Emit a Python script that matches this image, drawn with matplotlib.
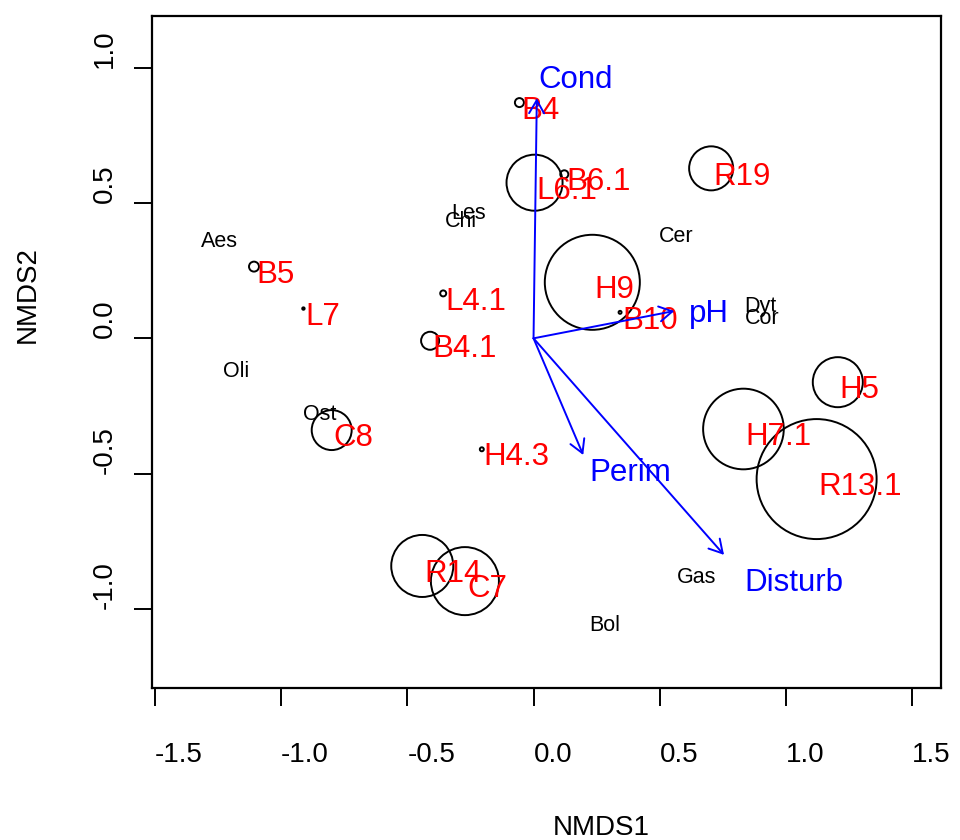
import matplotlib
matplotlib.use("Agg")
import matplotlib.pyplot as plt
import numpy as np

plt.rcParams['font.family'] = ['Liberation Sans', 'DejaVu Sans']

# ---- data ----
site_names = ["B4", "L6.1", "B6.1", "B5", "L7", "L4.1", "B4.1", "C8", "H4.3",
              "R14", "C7", "R19", "H9", "B10", "H5", "H7.1", "R13.1"]
site_x = [-0.056, 0.004, 0.122, -1.108, -0.912, -0.358, -0.410, -0.800, -0.205,
          -0.441, -0.272, 0.704, 0.233, 0.343, 1.206, 0.832, 1.122]
site_y = [0.871, 0.575, 0.606, 0.265, 0.110, 0.166, -0.009, -0.339, -0.410,
          -0.841, -0.897, 0.628, 0.207, 0.096, -0.162, -0.335, -0.520]
site_size = [0.075, 0.467, 0.067, 0.083, 0.02, 0.05, 0.15, 0.333, 0.033,
             0.517, 0.567, 0.367, 0.792, 0.025, 0.417, 0.672, 1.0]

species_names = ["Aes", "Oli", "Ost", "Les", "Chi", "Cer", "Dyt", "Cor", "Gas", "Bol"]
species_x = [-1.245, -1.179, -0.849, -0.257, -0.287, 0.565, 0.898, 0.905, 0.647, 0.281]
species_y = [0.367, -0.113, -0.275, 0.468, 0.440, 0.384, 0.127, 0.080, -0.877, -1.053]

env_names = ["Cond", "pH", "Perim", "Disturb"]
env_x = [0.013, 0.558, 0.197, 0.755]
env_y = [0.887, 0.101, -0.431, -0.800]

xticks = [-1.5, -1.0, -0.5, 0.0, 0.5, 1.0, 1.5]
xtick_labels = ["-1.5", "-1.0", "-0.5", "0.0", "0.5", "1.0", "1.5"]
yticks = [-1.0, -0.5, 0.0, 0.5, 1.0]
ytick_labels = ["-1.0", "-0.5", "0.0", "0.5", "1.0"]

# ---- figure ----
DPI = 100
fig = plt.figure(figsize=(9.6, 8.4), dpi=DPI)
ax = fig.add_axes([152.3 / 960, 1 - 688.3 / 840, (941 - 152.3) / 960, (688.3 - 15.7) / 840])
ax.set_xlim(-1.511, 1.615)
ax.set_ylim(-1.293, 1.192)

for sp in ax.spines.values():
    sp.set_linewidth(1.6)
    sp.set_color('black')

# circles (radius scaled: max size -> 60 px)
MAX_R_PX = 60.0
r_pt = np.array(site_size) * MAX_R_PX * 72.0 / DPI
ax.scatter(site_x, site_y, s=(2 * r_pt) ** 2, facecolors='none',
           edgecolors='black', linewidths=1.4, zorder=2)

# site labels (red), left-aligned near point
cap_site = 0.716 * 22.5 * DPI / 72
for n, x, y in zip(site_names, site_x, site_y):
    ax.annotate(n, xy=(x, y), xytext=(2, -(5 + cap_site / 2)),
                textcoords='offset pixels', ha='left', va='baseline',
                color='red', fontsize=22.5, zorder=3)

# species labels (black), centered
cap_sp = 0.716 * 15.5 * DPI / 72
for n, x, y in zip(species_names, species_x, species_y):
    ax.annotate(n, xy=(x, y), xytext=(0, -cap_sp / 2),
                textcoords='offset pixels', ha='center', va='baseline',
                color='black', fontsize=15.5, zorder=3)

# env arrows (blue)
for n, x, y in zip(env_names, env_x, env_y):
    ax.annotate('', xy=(x, y), xytext=(0, 0),
                arrowprops=dict(arrowstyle='->,head_length=0.94,head_width=0.54',
                                color='blue', lw=1.4, shrinkA=0, shrinkB=0,
                                mutation_scale=10),
                zorder=4)
    ax.annotate(n, xy=(1.1 * x, 1.1 * y), xytext=(1, -(3 + cap_site / 2)),
                textcoords='offset pixels', ha='left', va='baseline',
                color='blue', fontsize=22.5, zorder=4)

# ticks
ax.set_xticks(xticks)
ax.set_xticklabels(xtick_labels, fontsize=20)
ax.set_yticks(yticks)
ax.set_yticklabels(ytick_labels, fontsize=20, rotation=90)
ax.tick_params(axis='both', direction='out', length=13, width=1.4, color='black')
ax.tick_params(axis='x', pad=26)
ax.tick_params(axis='y', pad=11.7)
for lab in ax.get_xticklabels():
    lab.set_ha('left')
for lab in ax.get_yticklabels():
    lab.set_va('bottom')

# axis titles
fig.text(601.7 / 960, 1 - 835 / 840, "NMDS1", ha='center', va='baseline', fontsize=20)
fig.text(27.9 / 960, 1 - 295 / 840, "NMDS2", ha='center', va='center', rotation=90, fontsize=20)

fig.savefig("out.png", dpi=DPI)
